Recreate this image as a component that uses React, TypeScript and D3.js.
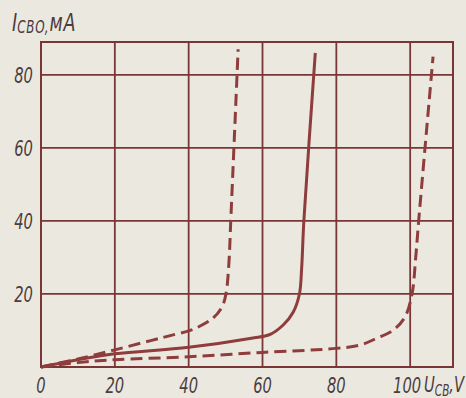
import React from "react";
import * as d3 from "d3";

const xTicks = [0, 20, 40, 60, 80, 100];
const yTicks = [20, 40, 60, 80];
const xGrid = [20, 40, 60, 80, 100];
const yGrid = [20, 40, 60, 80];

const dashedLeft: [number, number][] = [
  [0, 0], [10, 2.2], [20, 4.7], [30, 7.3], [35, 8.6], [40, 9.9], [42.3, 10.8],
  [46.6, 13.4], [49, 16.4], [50.1, 20], [50.9, 28.5], [51.4, 40], [53.4, 87],
];
const solidMid: [number, number][] = [
  [0, 0], [10, 2], [20, 3.6], [40, 5.4], [57, 7.9], [62, 8.9], [65.6, 11.5],
  [68.3, 15], [70, 20], [70.6, 27], [71.2, 40], [74.3, 86],
];
const dashedRight: [number, number][] = [
  [0, 0], [10, 1.2], [20, 2], [40, 2.8], [60, 4], [80, 5.1], [86.4, 6], [91, 7.9],
  [95.4, 10.1], [98.6, 13.7], [100.5, 20], [101.5, 30], [102.3, 40], [106.2, 85],
];

const W = 466;
const H = 398;
const left = 41, right = 453, top = 42, bottom = 367;

const x = d3.scaleLinear().domain([0, 111.6]).range([left, right]);
const y = d3.scaleLinear().domain([0, 89]).range([bottom, top]);

const line = d3
  .line<[number, number]>()
  .x((d) => x(d[0]))
  .y((d) => y(d[1]))
  .curve(d3.curveCatmullRom.alpha(0.5));

const gridColor = "#7a3636";
const curveColor = "#8e3c3c";
const textColor = "#4c3c3e";
const font = "'DejaVu Sans Condensed', 'DejaVu Sans', sans-serif";

function Label({ tx, ty, anchor, size, children }: any) {
  return (
    <text
      transform={`translate(${tx},${ty}) scale(0.78,1)`}
      textAnchor={anchor}
      fontFamily={font}
      fontStyle="italic"
      fontSize={size}
      fill={textColor}
    >
      {children}
    </text>
  );
}

export default function App() {
  return (
    <svg
      width={W}
      height={H}
      style={{ position: "fixed", left: 0, top: 0 }}
      viewBox={`0 0 ${W} ${H}`}
    >
      <rect x={0} y={0} width={W} height={H} fill="#ebe9df" />
      {xGrid.map((v) => (
        <line key={"xg" + v} x1={x(v)} x2={x(v)} y1={top} y2={bottom} stroke={gridColor} strokeWidth={1.8} />
      ))}
      {yGrid.map((v) => (
        <line key={"yg" + v} x1={left} x2={right} y1={y(v)} y2={y(v)} stroke={gridColor} strokeWidth={1.8} />
      ))}
      <rect x={left} y={top} width={right - left} height={bottom - top} fill="none" stroke={gridColor} strokeWidth={2} />
      <path d={line(dashedLeft) || ""} fill="none" stroke={curveColor} strokeWidth={3} strokeDasharray="12 6" />
      <path d={line(solidMid) || ""} fill="none" stroke={curveColor} strokeWidth={3} />
      <path d={line(dashedRight) || ""} fill="none" stroke={curveColor} strokeWidth={3} strokeDasharray="12 6" />
      {yTicks.map((v) => (
        <Label key={"yt" + v} tx={33} ty={y(v) + 8} anchor="end" size={21}>
          {String(v)}
        </Label>
      ))}
      {xTicks.map((v) => (
        <Label key={"xt" + v} tx={x(v) - (v === 100 ? 3 : 0)} ty={393} anchor="middle" size={21}>
          {String(v)}
        </Label>
      ))}
      <Label tx={424} ty={392} anchor="start" size={21}>
        U
        <tspan fontSize={15} dy={4}>CB</tspan>
        <tspan dy={-4}>,V</tspan>
      </Label>
      <Label tx={12} ty={31} anchor="start" size={25}>
        I
        <tspan fontSize={17} dy={2} letterSpacing={1}>CBO,</tspan>
        <tspan dy={-2} letterSpacing={1}>мA</tspan>
      </Label>
    </svg>
  );
}
